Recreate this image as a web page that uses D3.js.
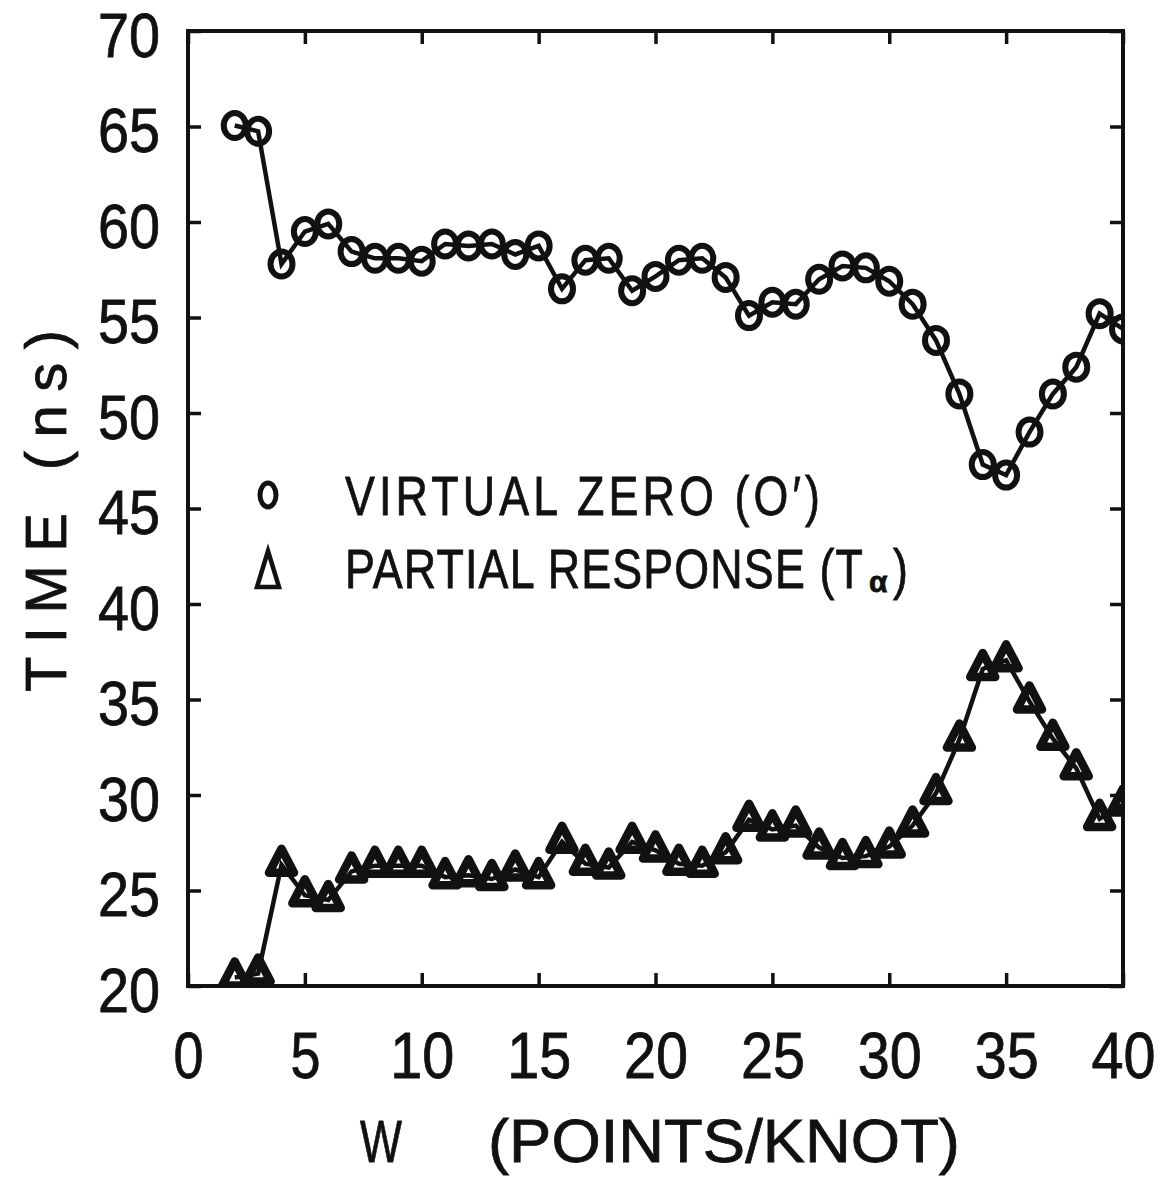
<!DOCTYPE html>
<html>
<head>
<meta charset="utf-8">
<script src="https://cdn.jsdelivr.net/npm/d3@7"></script>
<style>
  html, body { margin: 0; padding: 0; background: #fff; }
  svg { display: block; }
  text { font-family: "Liberation Sans", Arial, sans-serif; fill: #111; stroke: #111; stroke-width: 0.8px; }
</style>
</head>
<body>
<svg id="chart" width="1167" height="1177"></svg>
<script>
// W (points per knot), shared by both series
const widths = d3.range(2, 41);

// Virtual zero time O' (ns)
const virtualZero = [
  65.05, 64.75, 57.8, 59.5, 59.9, 58.45, 58.1, 58.1, 57.95, 58.85,
  58.75, 58.85, 58.3, 58.75, 56.5, 58.0, 58.1, 56.4, 57.15, 58.0,
  58.1, 57.1, 55.1, 55.8, 55.7, 57.0, 57.7, 57.6, 56.9, 55.7,
  53.8, 51.0, 47.3, 46.75, 49.0, 51.0, 52.4, 55.2, 54.4
];

// Partial response time T_alpha (ns)
const partialResponse = [
  20.45, 20.65, 26.35, 24.75, 24.5, 26.0, 26.3, 26.3, 26.3, 25.7,
  25.8, 25.6, 26.1, 25.7, 27.55, 26.4, 26.2, 27.55, 27.1, 26.4,
  26.3, 27.0, 28.7, 28.2, 28.4, 27.25, 26.7, 26.8, 27.3, 28.4,
  30.1, 32.9, 36.6, 37.05, 34.9, 32.95, 31.4, 28.75, 29.5
];

const xTicks = [0, 5, 10, 15, 20, 25, 30, 35, 40];
const yTicks = [20, 25, 30, 35, 40, 45, 50, 55, 60, 65, 70];

const svg = d3.select("#chart");
const plot = { left: 188, right: 1123, top: 31, bottom: 986 };

const x = d3.scaleLinear().domain([0, 40]).range([plot.left, plot.right]);
const y = d3.scaleLinear().domain([20, 70]).range([plot.bottom, plot.top]);

// clip markers that sit on the frame
svg.append("defs").append("clipPath").attr("id", "plotClip")
  .append("rect")
  .attr("x", plot.left).attr("y", plot.top)
  .attr("width", plot.right - plot.left).attr("height", plot.bottom - plot.top);

const tickLen = 13;

// axes: inward ticks on all four sides
const bottomAxis = svg.append("g")
  .attr("transform", `translate(0,${plot.bottom})`)
  .call(d3.axisBottom(x).tickValues(xTicks).tickSize(-tickLen).tickSizeOuter(0).tickFormat(d3.format("d")));
const topAxis = svg.append("g")
  .attr("transform", `translate(0,${plot.top})`)
  .call(d3.axisTop(x).tickValues(xTicks).tickSize(-tickLen).tickSizeOuter(0).tickFormat(""));
const leftAxis = svg.append("g")
  .attr("transform", `translate(${plot.left},0)`)
  .call(d3.axisLeft(y).tickValues(yTicks).tickSize(-tickLen).tickSizeOuter(0).tickPadding(28).tickFormat(d3.format("d")));
const rightAxis = svg.append("g")
  .attr("transform", `translate(${plot.right},0)`)
  .call(d3.axisRight(y).tickValues(yTicks).tickSize(-tickLen).tickSizeOuter(0).tickFormat(""));

[bottomAxis, topAxis, leftAxis, rightAxis].forEach(g => {
  g.select(".domain").remove();
  g.selectAll(".tick line").attr("stroke", "#111").attr("stroke-width", 3.5);
});

bottomAxis.selectAll(".tick text")
  .attr("y", 92).attr("dy", 0)
  .attr("font-size", 64)
  .attr("lengthAdjust", "spacingAndGlyphs")
  .attr("textLength", d => String(d).length === 1 ? 30 : 64);

leftAxis.selectAll(".tick text")
  .attr("font-size", 63)
  .attr("dy", "0.40em")
  .attr("lengthAdjust", "spacingAndGlyphs")
  .attr("textLength", 62);

// frame
svg.append("rect")
  .attr("x", plot.left).attr("y", plot.top)
  .attr("width", plot.right - plot.left).attr("height", plot.bottom - plot.top)
  .attr("fill", "none").attr("stroke", "#111").attr("stroke-width", 4);

// series
const line = d3.line().x(d => x(d[0])).y(d => y(d[1]));
const zeroPts = widths.map((w, i) => [w, virtualZero[i]]);
const partPts = widths.map((w, i) => [w, partialResponse[i]]);

const data = svg.append("g").attr("clip-path", "url(#plotClip)");

data.append("path").datum(zeroPts).attr("d", line)
  .attr("fill", "none").attr("stroke", "#111").attr("stroke-width", 4.5);
data.append("path").datum(partPts).attr("d", line)
  .attr("fill", "none").attr("stroke", "#111").attr("stroke-width", 4.5);

data.selectAll(".circ").data(zeroPts).join("ellipse")
  .attr("class", "circ")
  .attr("cx", d => x(d[0])).attr("cy", d => y(d[1]))
  .attr("rx", 11).attr("ry", 12.5)
  .attr("fill", "none").attr("stroke", "#111").attr("stroke-width", 6);

// triangle with its centroid on the data point
const triH = 24, triW = 25;
const triPath = `M0,${-2 * triH / 3} L${triW / 2},${triH / 3} L${-triW / 2},${triH / 3} Z`;
data.selectAll(".tri").data(partPts).join("path")
  .attr("class", "tri")
  .attr("transform", d => `translate(${x(d[0])},${y(d[1])})`)
  .attr("d", triPath)
  .attr("fill", "none").attr("stroke", "#111").attr("stroke-width", 8.5)
  .attr("stroke-linejoin", "round");

// legend: condensed glyphs with wide spacing
const sx = 0.8;
const legend = svg.append("g");
legend.append("ellipse")
  .attr("cx", 268).attr("cy", 495).attr("rx", 8).attr("ry", 12)
  .attr("fill", "none").attr("stroke", "#111").attr("stroke-width", 5);
legend.append("text")
  .attr("transform", `scale(${sx},1)`)
  .attr("x", 345 / sx).attr("y", 515).attr("font-size", 56)
  .attr("lengthAdjust", "spacing").attr("textLength", 475 / sx)
  .text("VIRTUAL ZERO (O\u2032)");

legend.append("path")
  .attr("transform", "translate(268,570)")
  .attr("d", "M0,-19 L11,17 L-11,17 Z")
  .attr("fill", "none").attr("stroke", "#111").attr("stroke-width", 4.5)
  .attr("stroke-linejoin", "miter");
legend.append("text")
  .attr("transform", `scale(${sx},1)`)
  .attr("x", 345 / sx).attr("y", 588).attr("font-size", 56)
  .attr("lengthAdjust", "spacing").attr("textLength", 518 / sx)
  .text("PARTIAL RESPONSE (T");
legend.append("text")
  .attr("x", 869).attr("y", 592).attr("font-size", 30).attr("font-weight", "bold")
  .text("\u03B1");
legend.append("text")
  .attr("transform", `scale(${sx},1)`)
  .attr("x", 893 / sx).attr("y", 588).attr("font-size", 56)
  .text(")");

// axis titles
svg.append("text")
  .attr("transform", "translate(66,692) rotate(-90)")
  .attr("font-size", 58)
  .attr("lengthAdjust", "spacing").attr("textLength", 362)
  .text("TIME (ns)");

svg.append("text")
  .attr("x", 381).attr("y", 1162).attr("text-anchor", "middle")
  .attr("font-size", 60)
  .attr("lengthAdjust", "spacingAndGlyphs").attr("textLength", 42)
  .text("W");
svg.append("text")
  .attr("x", 488).attr("y", 1162)
  .attr("font-size", 62)
  .attr("lengthAdjust", "spacingAndGlyphs").attr("textLength", 472)
  .text("(POINTS/KNOT)");
</script>
</body>
</html>
